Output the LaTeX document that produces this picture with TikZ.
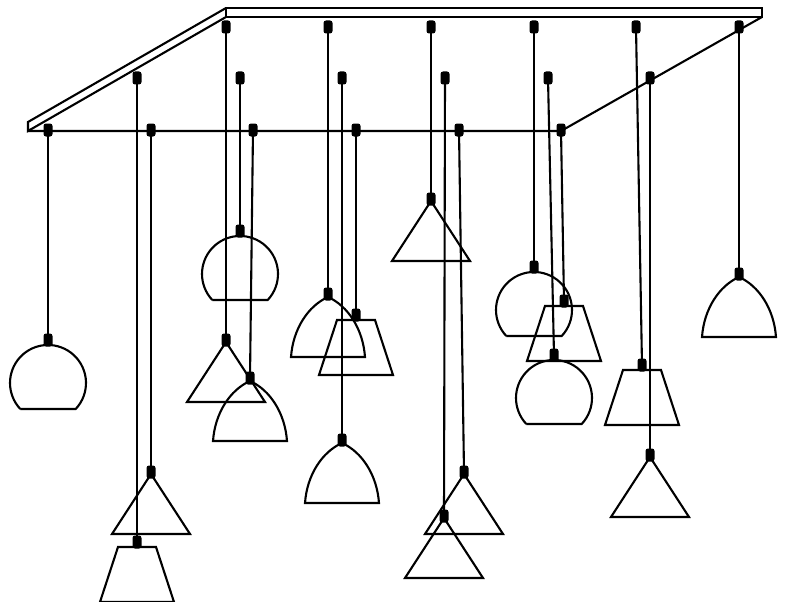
\documentclass[tikz,border=0pt]{standalone}
\tikzset{
  x=1pt, y=-1pt,
  ink/.style={line width=2.1pt, line join=miter, draw=black},
  plug/.style={shape=rectangle, fill=black, draw=none, rounded corners=2.5pt, minimum width=9pt, minimum height=13pt, inner sep=0pt},
  globe/.pic={\draw[ink] (-27.7,69) -- (27.7,69) arc[start angle=43.2, end angle=-223.2, radius=38] -- cycle;},
  dome/.pic={\draw[ink] (-37,63) -- (37,63) .. controls (35,35) and (20,12) .. (0,3) .. controls (-20,12) and (-35,35) .. (-37,63) -- cycle;},
  cone/.pic={\draw[ink] (-39,62) -- (39,62) -- (0,2) -- cycle;},
  trap/.pic={\draw[ink] (-19,5) -- (19,5) -- (37,60) -- (-37,60) -- cycle;}
}
\newcommand{\lamp}[6]{% name, kind, top x, top y, plug x, plug y
  \node[plug] (t#1) at (#3,#4) {};
  \node[plug] (b#1) at (#5,#6) {};
  \draw[ink] (t#1.center) -- (b#1.center);
  \pic at (b#1.center) {#2};
}
\begin{document}
\begin{tikzpicture}
\useasboundingbox (0,0) rectangle (785,602);
% ceiling frame
\draw[ink] (226,8) -- (762,8) -- (762,17) -- (226,17) -- cycle;
\draw[ink] (226,8) -- (28,122) -- (28,131) -- (226,17);
\draw[ink] (28,131) -- (561,131) -- (762,17);
% front row
\lamp{a}{globe}{48}{130}{48}{340}
\lamp{b}{cone}{151}{130}{151}{472}
\lamp{c}{dome}{253}{130}{250}{378}
\lamp{d}{trap}{356}{130}{356}{315}
\lamp{e}{cone}{459}{130}{464}{472}
\lamp{f}{trap}{561}{130}{564}{301}
% middle row
\lamp{g}{trap}{137}{78}{137}{542}
\lamp{h}{globe}{240}{78}{240}{231}
\lamp{i}{dome}{342}{78}{342}{440}
\lamp{j}{cone}{445}{78}{444}{516}
\lamp{k}{globe}{548}{78}{554}{355}
\lamp{l}{cone}{650}{78}{650}{455}
% back row
\lamp{m}{cone}{226}{27}{226}{340}
\lamp{n}{dome}{328}{27}{328}{294}
\lamp{o}{cone}{431}{27}{431}{199}
\lamp{p}{globe}{534}{27}{534}{267}
\lamp{q}{trap}{636}{27}{642}{365}
\lamp{r}{dome}{739}{27}{739}{274}
\end{tikzpicture}
\end{document}
